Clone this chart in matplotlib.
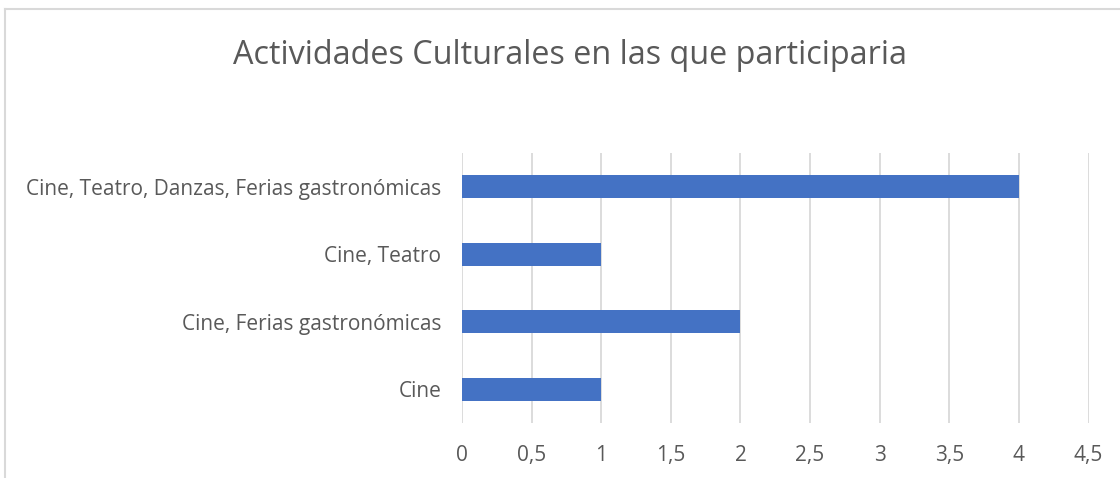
import matplotlib
matplotlib.use("Agg")
from matplotlib import pyplot as plt
from matplotlib.lines import Line2D

categorias = ["Cine", "Cine, Ferias gastronómicas", "Cine, Teatro",
              "Cine, Teatro, Danzas, Ferias gastronómicas"]
valores = [1, 2, 1, 4]
ticks_x = [0, 0.5, 1, 1.5, 2, 2.5, 3, 3.5, 4, 4.5]
etiquetas_x = ["0", "0,5", "1", "1,5", "2", "2,5", "3", "3,5", "4", "4,5"]

plt.rcParams['font.family'] = ['Open Sans', 'DejaVu Sans']
gris = "#595959"

fig = plt.figure(figsize=(11.2, 4.78), dpi=100)
ax = fig.add_axes([462/1120, 1-423/478, (1088.6-462)/1120, 270/478])

ax.barh(range(len(categorias)), valores, height=0.34, color="#4472C4", zorder=3)
ax.set_ylim(-0.5, 3.5)
ax.set_xlim(0, 4.5)
ax.set_xticks(ticks_x)
ax.set_xticklabels(etiquetas_x)
ax.set_yticks(range(len(categorias)))
ax.set_yticklabels(categorias)
ax.grid(axis='x', color="#D9D9D9", linewidth=1.3, zorder=0)
for s in ax.spines.values():
    s.set_visible(False)
ax.tick_params(length=0, labelsize=15, colors=gris)
ax.tick_params(axis='y', pad=15)
ax.tick_params(axis='x', pad=16)

fig.text(570/1120, 1-55/478, "Actividades Culturales en las que participaria",
         ha='center', va='center', fontsize=23.3, color=gris)

# borde del grafico
fig.add_artist(Line2D([5/1120, 1], [1-9/478, 1-9/478], color="#D9D9D9", linewidth=1.5))
fig.add_artist(Line2D([5/1120, 5/1120], [0, 1-9/478], color="#D9D9D9", linewidth=1.5))

fig.savefig("out.png", dpi=100)
